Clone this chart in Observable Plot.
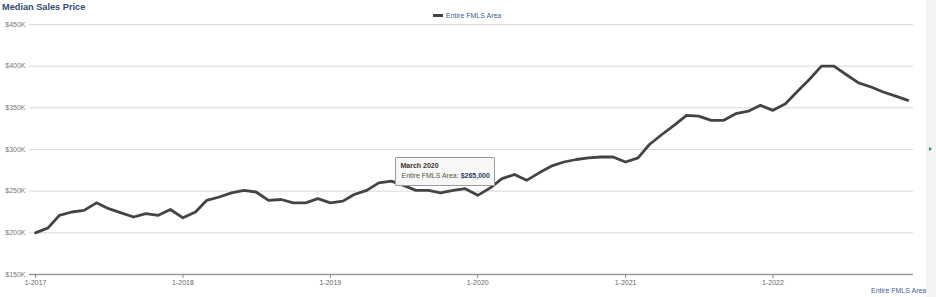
<!DOCTYPE html>
<html>
<head>
<meta charset="utf-8">
<script src="https://cdn.jsdelivr.net/npm/d3@7"></script>
<script src="https://cdn.jsdelivr.net/npm/@observablehq/plot@0.6"></script>
<style>
  html, body { margin: 0; padding: 0; background: #fff; }
  #wrap { position: relative; width: 936px; height: 297px; overflow: hidden; font-family: "Liberation Sans", Arial, sans-serif; }
  #wrap svg { position: absolute; left: 0; top: 0; }
  .title { position: absolute; left: 2px; top: 2px; font-size: 9.2px; font-weight: bold; color: #2f4d78; white-space: nowrap; }
  .legend { position: absolute; top: 12px; left: 433px; font-size: 7px; color: #3c5f92; white-space: nowrap; display: flex; align-items: center; }
  .legend .sw { display: inline-block; width: 10px; height: 3px; background: #444; margin-right: 3px; }
  .credit { position: absolute; left: 871px; top: 287px; font-size: 7px; color: #3c5f92; white-space: nowrap; }
  .side { position: absolute; left: 926px; top: 0; width: 10px; height: 297px; background: #f3f3f3; }
  .arrow { position: absolute; left: 929px; top: 147px; width: 0; height: 0; border-top: 2.5px solid transparent; border-bottom: 2.5px solid transparent; border-left: 3px solid #2f8a66; }
  .tip { position: absolute; box-sizing: border-box; width: 100px; height: 29px; background: rgba(247,247,247,0.96); border: 1px solid #9a9a9a; border-radius: 1px; font-size: 7px; padding: 3px 4px; line-height: 9.5px; white-space: nowrap; }
  .tip .h { font-weight: bold; color: #3a3328; }
  .tip .l { color: #5c5240; padding-left: 1px; }
  .tip .v { font-weight: bold; color: #2f4466; }
</style>
</head>
<body>
<div id="wrap"></div>
<script>
// ---- data ----
const seriesName = "Entire FMLS Area";
const chartTitle = "Median Sales Price";
const startYear = 2017;
const months = d3.range(72).map(i => new Date(Date.UTC(startYear + Math.floor(i / 12), i % 12, 1)));
const prices = [
  // 2017
  200000, 206000, 221000, 225000, 227000, 236000, 229000, 224000, 219000, 223000, 221000, 228000,
  // 2018
  218000, 225000, 239000, 243000, 248000, 251000, 249000, 239000, 240000, 236000, 236000, 241000,
  // 2019
  236000, 238000, 246000, 251000, 260000, 262000, 257000, 251000, 251000, 248000, 251000, 253000,
  // 2020
  245000, 254000, 265000, 270000, 263000, 272000, 280000, 285000, 288000, 290000, 291000, 291000,
  // 2021
  285000, 290000, 306000, 318000, 329000, 341000, 340000, 335000, 335000, 343000, 346000, 353000,
  // 2022
  347000, 355000, 369000, 384000, 400000, 400000, 390000, 380000, 375000, 369000, 364000, 359000
];
const yTicks = [150000, 200000, 250000, 300000, 350000, 400000, 450000];
const xTickYears = [2017, 2018, 2019, 2020, 2021, 2022];
const xTicks = xTickYears.map(y => new Date(Date.UTC(y, 0, 1)));
const tooltipIndex = 38; // March 2020

const data = months.map((d, i) => ({date: d, price: prices[i]}));

const chart = Plot.plot({
  width: 936,
  height: 297,
  marginTop: 24,
  marginBottom: 23,
  marginLeft: 29,
  marginRight: 23,
  style: {fontFamily: "'Liberation Sans', Arial, sans-serif", fontSize: "7px", background: "transparent", overflow: "visible", color: "#707070"},
  x: {type: "utc", domain: [new Date(Date.UTC(2016, 11, 17)), new Date(Date.UTC(2022, 11, 15))]},
  y: {domain: [150000, 450000]},
  marks: [
    Plot.ruleY(yTicks.filter(v => v > 150000), {stroke: "#d9d9d9", strokeWidth: 1}),
    Plot.ruleY([150000], {stroke: "#9a9a9a", strokeWidth: 1.5}),
    Plot.axisY({ticks: yTicks, tickSize: 0, tickPadding: 4, tickFormat: d => `$${d / 1000}K`, fill: "#777777", label: null}),
    Plot.axisX({ticks: xTicks, tickSize: 4, tickPadding: 2, tickFormat: d => `1-${d.getUTCFullYear()}`, stroke: "#8a8a8a", fill: "#666666", label: null}),
    Plot.lineY(data, {x: "date", y: "price", stroke: "#444444", strokeWidth: 2.8, curve: "linear", strokeLinejoin: "round"})
  ]
});

const wrap = document.getElementById("wrap");
wrap.appendChild(chart);

const title = document.createElement("div");
title.className = "title";
title.textContent = chartTitle;
wrap.appendChild(title);

const legend = document.createElement("div");
legend.className = "legend";
legend.innerHTML = `<span class="sw"></span><span>${seriesName}</span>`;
wrap.appendChild(legend);

const credit = document.createElement("div");
credit.className = "credit";
credit.textContent = seriesName;
wrap.appendChild(credit);

const side = document.createElement("div");
side.className = "side";
wrap.appendChild(side);
const arrow = document.createElement("div");
arrow.className = "arrow";
wrap.appendChild(arrow);

// tooltip positioned from the scales
const xs = chart.scale("x"), ys = chart.scale("y");
const td = data[tooltipIndex];
const px = xs.apply(td.date), py = ys.apply(td.price);
const tip = document.createElement("div");
tip.className = "tip";
tip.style.left = (px - 106) + "px";
tip.style.top = (py - 21) + "px";
const monthName = d3.utcFormat("%B %Y")(td.date);
tip.innerHTML = `<div class="h">${monthName}</div><div class="l">${seriesName}: <span class="v">${d3.format("$,")(td.price)}</span></div>`;
wrap.appendChild(tip);
</script>
</body>
</html>
